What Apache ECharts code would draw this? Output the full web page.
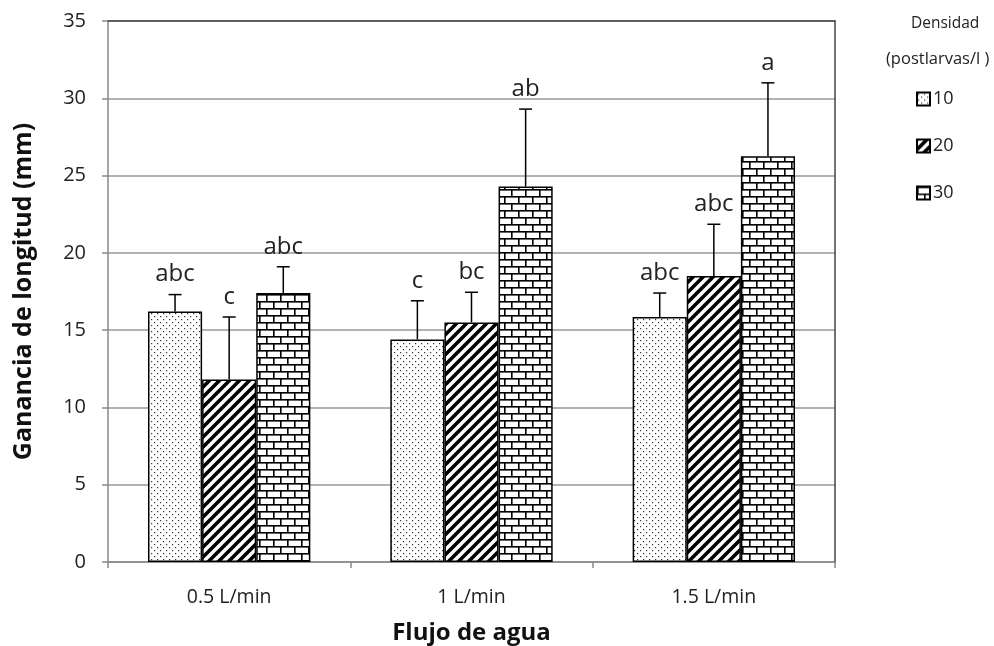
<!DOCTYPE html>
<html>
<head>
<meta charset="utf-8">
<script src="https://cdn.jsdelivr.net/npm/echarts@6/dist/echarts.min.js"></script>
<style>
  html, body { margin: 0; padding: 0; background: #fff; }
  #chart { width: 994px; height: 646px; }
</style>
</head>
<body>
<div id="chart"></div>
<script>
// Water flow categories
const flows = ['0.5 L/min', '1 L/min', '1.5 L/min'];
// Stocking densities (postlarvae per litre)
const densities = ['10', '20', '30'];
// Mean length gain (mm) per density, one value per flow
const mean10 = [16.2, 14.4, 15.85];
const mean20 = [11.8, 15.5, 18.5];
const mean30 = [17.4, 24.3, 26.25];
// Upper error (standard deviation, mm)
const sd10 = [1.1, 2.5, 1.55];
const sd20 = [4.05, 1.95, 3.35];
const sd30 = [1.7, 5.0, 4.75];
// Significance letters
const sig10 = ['abc', 'c', 'abc'];
const sig20 = ['c', 'bc', 'abc'];
const sig30 = ['abc', 'ab', 'a'];
// Y axis ticks
const yTicks = [0, 5, 10, 15, 20, 25, 30, 35];

const means = [mean10, mean20, mean30];
const sds = [sd10, sd20, sd30];
const sigs = [sig10, sig20, sig30];

const FONT = '"Open Sans", sans-serif';

function makeCanvas(w, h, draw) {
  const c = document.createElement('canvas');
  c.width = w; c.height = h;
  const ctx = c.getContext('2d');
  ctx.fillStyle = '#fff';
  ctx.fillRect(0, 0, w, h);
  draw(ctx);
  return c;
}

// Fill patterns: fine dots, diagonal stripes, bricks
const dotPattern = makeCanvas(6, 6, ctx => {
  ctx.fillStyle = '#333';
  ctx.fillRect(1, 1, 1.2, 1.2);
  ctx.fillRect(4, 4, 1.2, 1.2);
});
const stripePattern = makeCanvas(10, 10, ctx => {
  ctx.strokeStyle = '#000';
  ctx.lineWidth = 3.6;
  ctx.beginPath();
  ctx.moveTo(-2, 12); ctx.lineTo(12, -2);
  ctx.moveTo(-7, 7); ctx.lineTo(7, -7);
  ctx.moveTo(3, 17); ctx.lineTo(17, 3);
  ctx.stroke();
});
const brickPattern = makeCanvas(14, 14, ctx => {
  ctx.fillStyle = '#000';
  ctx.fillRect(0, 0, 14, 1.6);
  ctx.fillRect(0, 7, 14, 1.6);
  ctx.fillRect(0, 0, 1.6, 7);
  ctx.fillRect(7, 7, 1.6, 7);
});
const patterns = [dotPattern, stripePattern, brickPattern];

const gapRatio = 0.33;

const barSeries = densities.map((d, i) => ({
  name: d,
  type: 'bar',
  barGap: '0%',
  barCategoryGap: (gapRatio * 100) + '%',
  data: means[i],
  itemStyle: {
    color: { image: patterns[i], repeat: 'repeat' },
    borderColor: '#000',
    borderWidth: 1.5
  },
  z: 2
}));

const errSeries = densities.map((d, i) => ({
  type: 'custom',
  silent: true,
  z: 3,
  data: flows.map((f, k) => [k, means[i][k], sds[i][k]]),
  renderItem: function (params, api) {
    const k = api.value(0);
    const m = api.value(1);
    const s = api.value(2);
    const band = api.size([1, 0])[0];
    const bw = band * (1 - gapRatio) / 3;
    const off = bw * (i - 1);
    const base = api.coord([k, m]);
    const top = api.coord([k, m + s]);
    const x = base[0] + off;
    const cap = 6.5;
    return {
      type: 'group',
      children: [
        { type: 'line', shape: { x1: x, y1: base[1], x2: x, y2: top[1] },
          style: { stroke: '#000', lineWidth: 1.5 } },
        { type: 'line', shape: { x1: x - cap, y1: top[1], x2: x + cap, y2: top[1] },
          style: { stroke: '#000', lineWidth: 1.5 } },
        { type: 'text', x: x, y: top[1] - 20,
          style: { text: sigs[i][k], fill: '#222', font: '24px ' + FONT,
                   align: 'center', verticalAlign: 'middle' } }
      ]
    };
  }
}));

const chart = echarts.init(document.getElementById('chart'), null, { renderer: 'canvas' });
chart.setOption({
  animation: false,
  backgroundColor: '#fff',
  grid: { left: 108, right: 159, top: 21, bottom: 84, outerBoundsMode: 'none', show: false },
  legend: {
    data: densities,
    orient: 'vertical',
    left: 911,
    top: 85,
    itemWidth: 13,
    itemHeight: 13,
    itemGap: 29,
    icon: 'rect',
    textStyle: { fontFamily: 'Open Sans', fontSize: 18, color: '#222', padding: [0, 0, 0, -2] }
  },
  graphic: [
    { type: 'text', left: 911, top: 16,
      style: { text: 'Densidad', font: '15.5px ' + FONT, fill: '#222' } },
    { type: 'text', left: 886, top: 51,
      style: { text: '(postlarvas/l )', font: '16.5px ' + FONT, fill: '#222' } }
  ],
  xAxis: [{
    type: 'category',
    data: flows,
    name: 'Flujo de agua',
    nameLocation: 'middle',
    nameGap: 59,
    nameTextStyle: { fontFamily: 'Open Sans', fontWeight: 'bold', fontSize: 24, color: '#111' },
    axisLine: { lineStyle: { color: '#888', width: 1.5 } },
    axisTick: { show: true, length: 6, lineStyle: { color: '#888', width: 1.5 } },
    axisLabel: { fontFamily: 'Open Sans', fontSize: 19.5, color: '#222', margin: 25 }
  }, {
    type: 'category',
    data: flows,
    position: 'top',
    axisLine: { show: true, onZero: false, lineStyle: { color: '#444', width: 1.5 } },
    axisTick: { show: false },
    axisLabel: { show: false }
  }],
  yAxis: [{
    type: 'value',
    min: 0,
    max: 35,
    interval: 5,
    name: 'Ganancia de longitud (mm)',
    nameLocation: 'middle',
    nameGap: 72,
    nameTextStyle: { fontFamily: 'Open Sans', fontWeight: 'bold', fontSize: 25, color: '#111' },
    axisLine: { show: true, lineStyle: { color: '#888', width: 1.5 } },
    axisTick: { show: true, length: 6, lineStyle: { color: '#888', width: 1.5 } },
    axisLabel: { fontFamily: 'Open Sans', fontSize: 20, color: '#222', margin: 22,
                 formatter: v => yTicks.includes(v) ? String(v) : '' },
    splitLine: { show: true, lineStyle: { color: '#999', width: 1.5 } }
  }, {
    type: 'value',
    min: 0,
    max: 35,
    interval: 5,
    position: 'right',
    axisLine: { show: true, lineStyle: { color: '#444', width: 1.5 } },
    axisTick: { show: false },
    axisLabel: { show: false },
    splitLine: { show: false }
  }],
  series: [...barSeries, ...errSeries]
});
</script>
</body>
</html>
